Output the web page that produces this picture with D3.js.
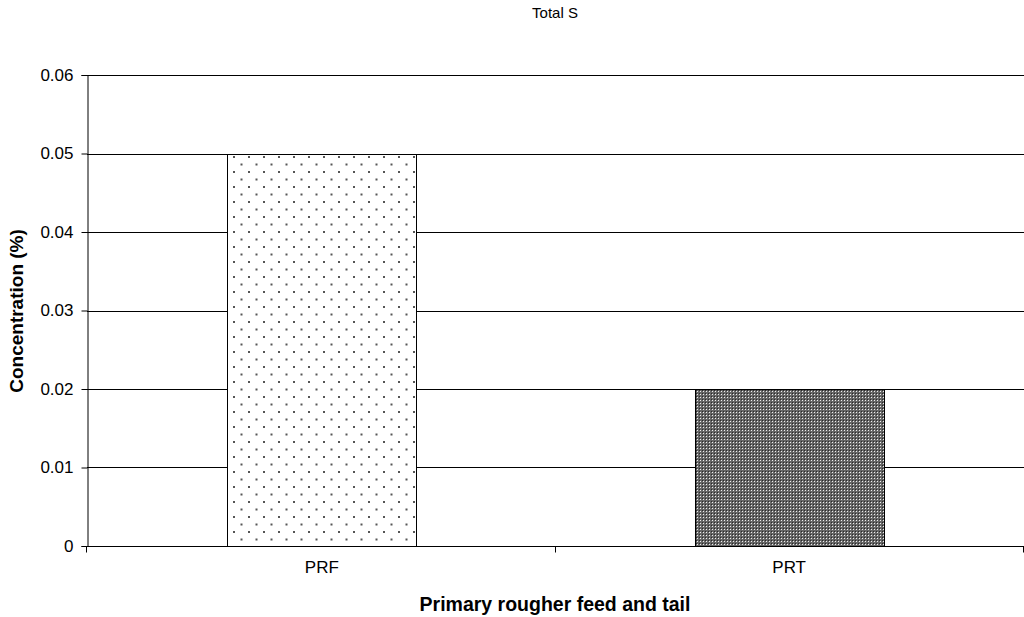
<!DOCTYPE html>
<html><head><meta charset="utf-8">
<script src="https://cdn.jsdelivr.net/npm/d3@7"></script>
<style>body{margin:0;background:#fff}svg{display:block;font-family:"Liberation Sans",Arial,sans-serif}</style>
</head><body>
<svg id="c" width="1024" height="617"></svg>
<script>
const categories = ["PRF", "PRT"];
const values = [0.05, 0.02];
const yTicks = [0, 0.01, 0.02, 0.03, 0.04, 0.05, 0.06];
const title = "Total S";
const xTitle = "Primary rougher feed and tail";
const yTitle = "Concentration (%)";

const svg = d3.select("#c");
const m = {l: 87, t: 75, r: 1024, b: 546};
const x = d3.scaleBand().domain(categories).range([m.l, m.r]).paddingInner(0.595).paddingOuter(0.3);
const y = d3.scaleLinear().domain([0, 0.06]).range([m.b, m.t]);

const defs = svg.append("defs");
const p1 = defs.append("pattern").attr("id","dots").attr("patternUnits","userSpaceOnUse")
  .attr("width",15).attr("height",15).attr("x",228).attr("y",154);
p1.append("rect").attr("width",15).attr("height",15).attr("fill","#fff");
p1.append("rect").attr("x",5).attr("y",2).attr("width",2).attr("height",2).attr("fill","#555");
p1.append("rect").attr("x",12.5).attr("y",9.5).attr("width",2).attr("height",2).attr("fill","#555");
const p2 = defs.append("pattern").attr("id","checks").attr("patternUnits","userSpaceOnUse")
  .attr("width",3).attr("height",3);
p2.append("rect").attr("width",3).attr("height",3).attr("fill","#666");
p2.append("rect").attr("x",1).attr("y",1).attr("width",1).attr("height",1).attr("fill","#eee");
p2.append("rect").attr("x",0).attr("y",0).attr("width",1).attr("height",1).attr("fill","#2a2a2a");

// gridlines
svg.append("g").selectAll("line").data(yTicks.filter(d=>d>0)).join("line")
  .attr("x1", m.l).attr("x2", m.r).attr("y1", d=>Math.round(y(d))+0.5).attr("y2", d=>Math.round(y(d))+0.5)
  .attr("stroke","#000").attr("stroke-width",1);

// bars
svg.append("g").selectAll("rect").data(categories).join("rect")
  .attr("x", d=>Math.round(x(d))+0.5)
  .attr("y", (d,i)=>Math.round(y(values[i]))+0.5)
  .attr("width", Math.round(x.bandwidth()))
  .attr("height", (d,i)=>Math.round(y(0))-Math.round(y(values[i])))
  .attr("fill", (d,i)=> i===0 ? "url(#dots)" : "url(#checks)")
  .attr("stroke","#000").attr("stroke-width",1);

// y axis
const ya = svg.append("g").attr("transform",`translate(${m.l+0.5},0)`)
  .call(d3.axisLeft(y).tickValues(yTicks).tickFormat(d=>d===0?"0":d3.format(".2f")(d)).tickSizeOuter(0).tickSize(6));
ya.attr("font-size",null).attr("font-family",null);
ya.select(".domain").attr("stroke","#000");
ya.selectAll(".tick line").attr("stroke","#000");
ya.selectAll(".tick text").style("font-size","17px").attr("fill","#000").attr("x",-14);

// x axis
const xa = svg.append("g").attr("transform",`translate(0,${m.b+0.5})`);
xa.append("line").attr("x1",m.l).attr("x2",m.r).attr("stroke","#000");
const bounds = [m.l, (m.l+m.r)/2, m.r];
xa.selectAll("line.t").data(bounds).join("line").attr("class","t")
  .attr("x1",d=>Math.round(d)-0.5).attr("x2",d=>Math.round(d)-0.5).attr("y1",0).attr("y2",6).attr("stroke","#000");
xa.selectAll("text").data(categories).join("text")
  .attr("x", d=>x(d)+x.bandwidth()/2).attr("y", 26).attr("text-anchor","middle")
  .style("font-size","17px").attr("fill","#000").text(d=>d);

svg.append("text").attr("x",555).attr("y",18).attr("text-anchor","middle").style("font-size","15px").text(title);
svg.append("text").attr("x",555).attr("y",611).attr("text-anchor","middle").style("font-size","19.5px").attr("font-weight","bold").text(xTitle);
svg.append("text").attr("transform","translate(23,311) rotate(-90)").attr("text-anchor","middle").style("font-size","19px").attr("font-weight","bold").text(yTitle);
</script>
</body></html>
